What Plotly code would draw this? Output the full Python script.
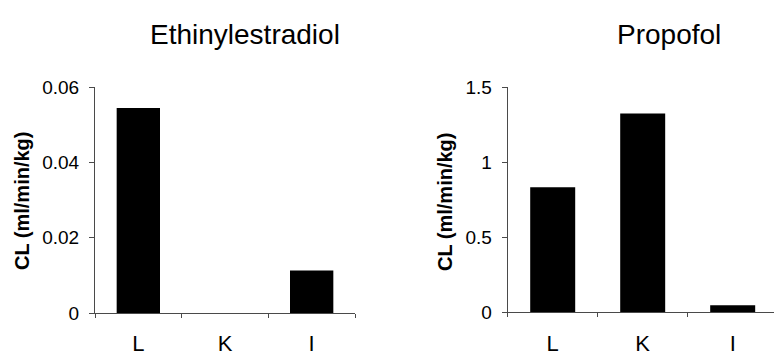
import plotly.graph_objects as go

categories = ["L", "K", "I"]
ethinyl_cl = [0.0545, 0.0, 0.0113]
propofol_cl = [0.834, 1.326, 0.046]
ethinyl_ticks = [0, 0.02, 0.04, 0.06]
ethinyl_ticktext = ["0", "0.02", "0.04", "0.06"]
propofol_ticks = [0, 0.5, 1, 1.5]
propofol_ticktext = ["0", "0.5", "1", "1.5"]
titles = ["Ethinylestradiol", "Propofol"]
ytitle = "CL (ml/min/kg)"

W, H = 774, 357
FONT = "Liberation Sans, Arial, sans-serif"
AX = "#4a4a4a"

fig = go.Figure()
fig.add_trace(go.Bar(x=categories, y=ethinyl_cl, xaxis="x", yaxis="y",
                     marker=dict(color="black", line=dict(width=0)), showlegend=False))
fig.add_trace(go.Bar(x=categories, y=propofol_cl, xaxis="x2", yaxis="y2",
                     marker=dict(color="black", line=dict(width=0)), showlegend=False))

xcommon = dict(type="category", showgrid=False, zeroline=False, showline=True,
               linecolor=AX, linewidth=1, ticks="outside", tickson="boundaries",
               ticklen=4, tickcolor=AX, tickfont=dict(family=FONT, size=22, color="black"),
               ticklabelstandoff=11, fixedrange=True)
ycommon = dict(showgrid=False, zeroline=False, showline=True, linecolor=AX, linewidth=1,
               ticks="outside", ticklen=5, tickcolor=AX, fixedrange=True,
               tickfont=dict(family=FONT, size=19, color="black"), ticklabelstandoff=6)

fig.update_layout(
    width=W, height=H, margin=dict(l=0, r=0, t=0, b=0),
    paper_bgcolor="white", plot_bgcolor="white", bargap=0.5,
    xaxis=dict(domain=[95 / W, 355 / W], anchor="y", range=[-0.5, 2.5], **xcommon),
    yaxis=dict(domain=[(H - 322) / H, (H - 82) / H], anchor="x", range=[0, 0.06],
               tickvals=ethinyl_ticks, ticktext=ethinyl_ticktext, **ycommon),
    xaxis2=dict(domain=[507.7 / W, 1.0], anchor="y2", range=[-0.5, 2.459], **xcommon),
    yaxis2=dict(domain=[(H - 321) / H, (H - 82.3) / H], anchor="x2", range=[0, 1.5],
                tickvals=propofol_ticks, ticktext=propofol_ticktext, **ycommon),
)

for cx, t in zip([245, 669], titles):
    fig.add_annotation(text=t, x=cx / W, y=(H - 26) / H, xref="paper", yref="paper",
                       xanchor="center", yanchor="middle", showarrow=False,
                       font=dict(family=FONT, size=28, color="black"))
for cx in [22, 445]:
    fig.add_annotation(text="<b>" + ytitle + "</b>", x=cx / W, y=(H - 203) / H,
                       xref="paper", yref="paper", xanchor="center", yanchor="middle",
                       textangle=-90, showarrow=False,
                       font=dict(family=FONT, size=20, color="black"))

fig.write_html("out.html", config={"displayModeBar": False},
               post_script="document.body.style.margin='0';document.body.style.overflow='hidden';")
